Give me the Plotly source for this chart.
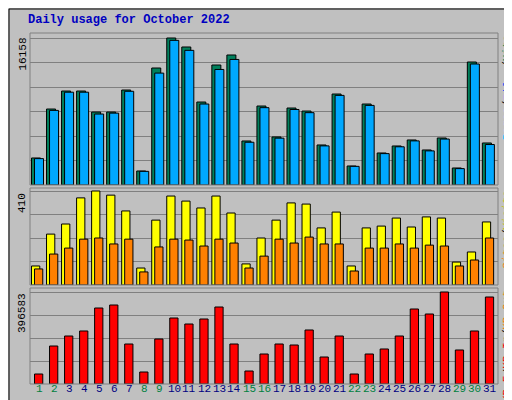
import plotly.graph_objects as go

days = list(range(1, 32))
hits = [2970,8350,10330,10330,8020,8020,10440,1540,12860,16158,15170,9120,13190,14290,4840,8680,5280,8460,8130,4400,10000,2090,8900,3520,4290,4950,3850,5170,1870,13520,4620]
files = [2900,8200,10200,10200,7800,7900,10300,1500,12300,15900,14800,8900,12700,13800,4700,8500,5150,8300,7950,4300,9850,2050,8750,3450,4200,4850,3750,5050,1800,13300,4450]
visits = [83,222,266,380,410,392,323,74,283,388,366,336,388,314,92,205,283,358,353,249,318,83,249,257,292,253,297,292,100,144,275]
sites = [70,135,161,200,205,179,200,57,166,200,196,170,200,183,74,126,200,183,209,179,179,61,161,161,179,161,174,170,83,109,205]
kbytes = [43100,163800,206900,228500,327600,340500,172400,51700,194000,284500,258600,280200,331900,172400,56000,129300,172400,168100,232800,116400,206900,43100,129300,150900,206900,323300,301700,396583,146600,228500,375000]
weekend = [1,2,8,9,15,16,22,23,29,30]

fig = go.Figure()
ln = dict(color="black", width=1)
fig.add_bar(x=days, y=hits, offset=-0.5, width=0.6, marker=dict(color="#00805C", line=ln), xaxis="x", yaxis="y")
fig.add_bar(x=days, y=files, offset=-0.3, width=0.6, marker=dict(color="#00A8FF", line=ln), xaxis="x", yaxis="y")
fig.add_bar(x=days, y=visits, offset=-0.5, width=0.55, marker=dict(color="#FFFF00", line=ln), xaxis="x2", yaxis="y2")
fig.add_bar(x=days, y=sites, offset=-0.3, width=0.55, marker=dict(color="#FF8000", line=ln), xaxis="x2", yaxis="y2")
fig.add_bar(x=days, y=kbytes, offset=-0.3, width=0.55, marker=dict(color="#FF0000", line=ln), xaxis="x3", yaxis="y3")

xr = [0.4, 31.54]
xcommon = dict(range=xr, showticklabels=False, showgrid=False, zeroline=False, domain=[22/512, 490/512])
ycommon = dict(showticklabels=False, zeroline=False, showgrid=True, gridcolor="#808080")
m1 = max(hits); m2 = max(visits); m3 = max(kbytes)
fig.update_layout(
    width=512, height=400, margin=dict(l=0, r=0, t=0, b=0),
    paper_bgcolor="#C0C0C0", plot_bgcolor="#C0C0C0", showlegend=False, barmode="overlay",
    xaxis=dict(**xcommon, anchor="y"),
    xaxis2=dict(**xcommon, anchor="y2"),
    xaxis3=dict(**xcommon, anchor="y3"),
    yaxis=dict(**ycommon, domain=[1-177/400, 1-25/400], range=[0, m1*152/147], dtick=m1/6),
    yaxis2=dict(**ycommon, domain=[1-277/400, 1-180/400], range=[0, m2*97/94], dtick=m2/4),
    yaxis3=dict(**ycommon, domain=[1-376/400, 1-280/400], range=[0, m3*96/92], dtick=m3/4),
    font=dict(family="Liberation Mono", size=11),
)

shapes = [dict(type="rect", xref="paper", yref="paper", x0=0.002, x1=0.998, y0=0.0025, y1=0.9975, line=dict(color="black", width=1))]
for top, bot in [(25, 177), (180, 277), (280, 376)]:
    shapes.append(dict(type="rect", xref="paper", yref="paper", x0=22/512, x1=490/512, y0=1-bot/400, y1=1-top/400, line=dict(color="#808080", width=1)))
fig.update_layout(shapes=shapes)

ann = [dict(text="<b>Daily usage for October 2022</b>", x=18/512, y=1-3/400, xref="paper", yref="paper",
            xanchor="left", yanchor="top", showarrow=False, font=dict(color="#0000C0", size=12))]
for val, top in [(m1, 25), (m2, 180), (m3, 280)]:
    ann.append(dict(text=str(val), textangle=-90, x=14/512, y=1-(top+3)/400, xref="paper", yref="paper",
                    xanchor="center", yanchor="top", showarrow=False, font=dict(color="black", size=11)))

right_labels = [
    (25, [("Pages", "#00C0FF"), ("/", "black"), ("Files", "#0040FF"), ("/", "black"), ("Hits", "#00805C")]),
    (180, [("Sites", "#FF8000"), ("/", "black"), ("Visits", "#C0C000")]),
    (280, [("KB F", "#FF0000"), ("/", "black"), ("KB In", "#FF0000"), ("/", "black"), ("KB Out", "#FF8000")]),
]
cw = 6.6
for top, parts in right_labels:
    total = sum(len(t) for t, _ in parts) * cw
    ypos = top + 2 + total  # bottom of text (text reads bottom-to-top)
    for t, c in parts:
        h = len(t) * cw
        ann.append(dict(text=t, textangle=-90, x=499/512, y=1-(ypos - h/2)/400, xref="paper", yref="paper",
                        xanchor="center", yanchor="middle", showarrow=False, font=dict(size=11, color=c)))
        ypos -= h
for d in days:
    ann.append(dict(text=str(d), x=d, y=1-389/400, xref="x3", yref="paper", showarrow=False,
                    font=dict(size=11, color="#008040" if d in weekend else "#000080")))
fig.update_layout(annotations=ann)
fig.write_html("out.html")
